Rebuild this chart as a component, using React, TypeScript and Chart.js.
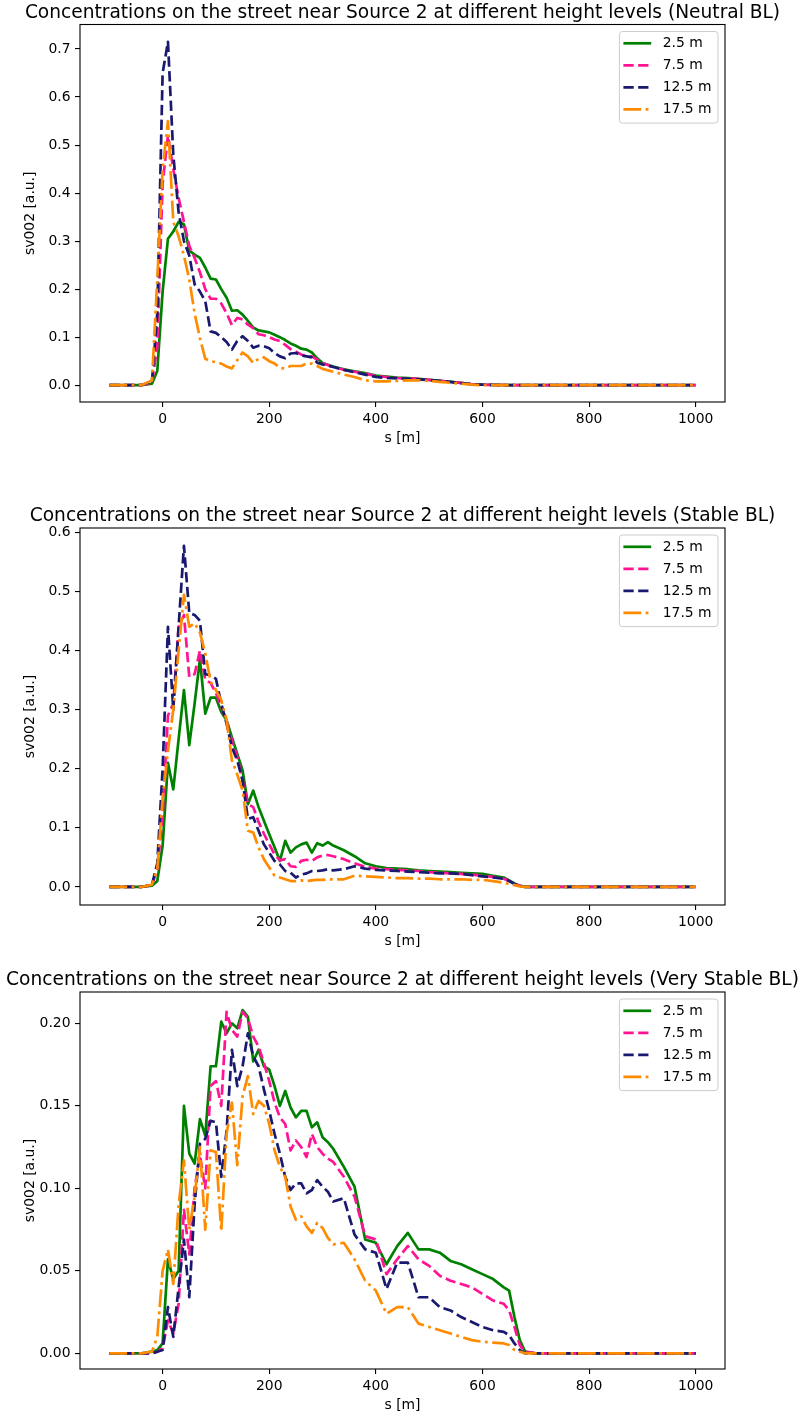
import React, { useEffect, useRef } from "react";
import { Chart, registerables } from "chart.js";

Chart.register(...registerables);

const FONT_FAMILY = "'DejaVu Sans', 'Liberation Sans', sans-serif";
const SERIES_LABELS = ["2.5 m", "7.5 m", "12.5 m", "17.5 m"];
const SERIES_COLORS = ["#008000", "#ff1493", "#191970", "#ff8c00"];
const SERIES_DASHES = [[], [10.3, 4.45], [10.3, 4.45], [17.8, 4.45, 2.78, 4.45]];
const X_TICKS = [0, 200, 400, 600, 800, 1000];

// ---------- Panel 1: Neutral BL ----------
const X1 = [-100, -80, -60, -40, -20, -10, 0, 10, 20, 30, 40, 50, 60, 70, 80, 90, 100, 110, 120, 130, 140, 150, 160, 170, 180, 190, 200, 210, 220, 230, 240, 250, 260, 270, 280, 290, 300, 320, 340, 360, 380, 400, 420, 440, 460, 480, 500, 520, 540, 560, 580, 600, 650, 700, 750, 800, 850, 900, 950, 1000];
const N_G = [0, 0, 0, 0, 0.003, 0.03, 0.195, 0.305, 0.32, 0.34, 0.335, 0.28, 0.272, 0.265, 0.245, 0.222, 0.22, 0.2, 0.182, 0.155, 0.156, 0.147, 0.134, 0.12, 0.114, 0.112, 0.11, 0.105, 0.1, 0.094, 0.087, 0.082, 0.076, 0.074, 0.068, 0.056, 0.046, 0.039, 0.033, 0.029, 0.025, 0.02, 0.018, 0.016, 0.015, 0.013, 0.011, 0.009, 0.007, 0.005, 0.002, 0.001, 0, 0, 0, 0, 0, 0, 0, 0];
const N_P = [0, 0, 0, 0, 0.005, 0.08, 0.42, 0.52, 0.45, 0.39, 0.34, 0.29, 0.265, 0.235, 0.2, 0.18, 0.18, 0.17, 0.15, 0.125, 0.14, 0.137, 0.126, 0.119, 0.106, 0.104, 0.1, 0.095, 0.092, 0.084, 0.075, 0.07, 0.064, 0.06, 0.06, 0.053, 0.046, 0.038, 0.032, 0.028, 0.024, 0.019, 0.017, 0.015, 0.014, 0.013, 0.011, 0.009, 0.007, 0.005, 0.002, 0.001, 0, 0, 0, 0, 0, 0, 0, 0];
const N_B = [0, 0, 0, 0, 0.008, 0.15, 0.65, 0.715, 0.48, 0.36, 0.3, 0.27, 0.21, 0.195, 0.175, 0.112, 0.109, 0.1, 0.09, 0.074, 0.092, 0.102, 0.092, 0.078, 0.082, 0.081, 0.077, 0.067, 0.06, 0.056, 0.066, 0.067, 0.062, 0.06, 0.058, 0.047, 0.043, 0.038, 0.032, 0.027, 0.022, 0.017, 0.015, 0.014, 0.013, 0.012, 0.011, 0.009, 0.007, 0.004, 0.002, 0.001, 0, 0, 0, 0, 0, 0, 0, 0];
const N_O = [0, 0, 0, 0, 0.01, 0.22, 0.45, 0.55, 0.34, 0.31, 0.27, 0.22, 0.15, 0.098, 0.055, 0.05, 0.048, 0.045, 0.039, 0.035, 0.052, 0.068, 0.06, 0.046, 0.055, 0.058, 0.05, 0.045, 0.036, 0.035, 0.04, 0.04, 0.04, 0.045, 0.045, 0.04, 0.034, 0.028, 0.022, 0.017, 0.01, 0.008, 0.008, 0.009, 0.01, 0.01, 0.009, 0.007, 0.005, 0.003, 0.001, 0, 0, 0, 0, 0, 0, 0, 0, 0];
const Y_TICKS_1 = [0, 0.1, 0.2, 0.3, 0.4, 0.5, 0.6, 0.7];

// ---------- Panels 2 and 3 share this s grid ----------
const X23 = [-100, -80, -60, -40, -20, -10, 0, 10, 20, 30, 40, 50, 60, 70, 80, 90, 100, 110, 120, 130, 140, 150, 160, 170, 180, 190, 200, 210, 220, 230, 240, 250, 260, 270, 280, 290, 300, 310, 320, 340, 360, 380, 400, 420, 440, 460, 480, 500, 520, 540, 560, 580, 600, 620, 640, 650, 660, 670, 680, 700, 750, 800, 850, 900, 950, 1000];

// ---------- Panel 2: Stable BL ----------
const S_G = [0, 0, 0, 0, 0.002, 0.01, 0.07, 0.21, 0.165, 0.25, 0.333, 0.24, 0.31, 0.385, 0.293, 0.32, 0.32, 0.296, 0.282, 0.253, 0.225, 0.197, 0.14, 0.163, 0.135, 0.112, 0.089, 0.067, 0.044, 0.078, 0.058, 0.067, 0.072, 0.075, 0.058, 0.074, 0.07, 0.076, 0.07, 0.062, 0.052, 0.04, 0.035, 0.032, 0.031, 0.03, 0.028, 0.027, 0.026, 0.025, 0.024, 0.023, 0.022, 0.019, 0.016, 0.011, 0.006, 0.002, 0, 0, 0, 0, 0, 0, 0, 0];
const S_P = [0, 0, 0, 0, 0.003, 0.03, 0.12, 0.29, 0.31, 0.44, 0.46, 0.355, 0.36, 0.4, 0.35, 0.345, 0.328, 0.305, 0.28, 0.248, 0.22, 0.18, 0.14, 0.135, 0.11, 0.09, 0.072, 0.055, 0.045, 0.047, 0.035, 0.034, 0.044, 0.046, 0.044, 0.05, 0.053, 0.054, 0.052, 0.047, 0.04, 0.034, 0.031, 0.03, 0.029, 0.028, 0.027, 0.025, 0.024, 0.023, 0.022, 0.021, 0.019, 0.017, 0.014, 0.01, 0.005, 0.002, 0, 0, 0, 0, 0, 0, 0, 0];
const S_B = [0, 0, 0, 0, 0.004, 0.04, 0.2, 0.44, 0.3, 0.44, 0.577, 0.463, 0.46, 0.45, 0.36, 0.358, 0.352, 0.31, 0.276, 0.236, 0.214, 0.18, 0.115, 0.118, 0.095, 0.072, 0.058, 0.044, 0.038, 0.027, 0.024, 0.016, 0.021, 0.023, 0.027, 0.027, 0.028, 0.03, 0.028, 0.03, 0.035, 0.031, 0.029, 0.028, 0.027, 0.026, 0.025, 0.024, 0.023, 0.023, 0.022, 0.02, 0.018, 0.016, 0.014, 0.01, 0.005, 0.002, 0, 0, 0, 0, 0, 0, 0, 0];
const S_O = [0, 0, 0, 0, 0.004, 0.03, 0.15, 0.23, 0.3, 0.4, 0.494, 0.44, 0.446, 0.43, 0.395, 0.347, 0.333, 0.316, 0.282, 0.214, 0.19, 0.163, 0.095, 0.092, 0.067, 0.047, 0.033, 0.019, 0.016, 0.013, 0.01, 0.01, 0.011, 0.01, 0.011, 0.012, 0.012, 0.013, 0.013, 0.013, 0.019, 0.018, 0.017, 0.016, 0.015, 0.015, 0.014, 0.014, 0.013, 0.013, 0.013, 0.012, 0.012, 0.01, 0.007, 0.005, 0.003, 0.001, 0, 0, 0, 0, 0, 0, 0, 0];
const Y_TICKS_2 = [0, 0.1, 0.2, 0.3, 0.4, 0.5, 0.6];

// ---------- Panel 3: Very Stable BL ----------
const V_G = [0, 0, 0, 0, 0.001, 0.002, 0.006, 0.057, 0.045, 0.05, 0.15, 0.121, 0.115, 0.142, 0.132, 0.174, 0.174, 0.201, 0.194, 0.2, 0.197, 0.208, 0.204, 0.177, 0.184, 0.174, 0.172, 0.162, 0.15, 0.159, 0.149, 0.143, 0.147, 0.147, 0.137, 0.14, 0.131, 0.128, 0.124, 0.113, 0.101, 0.069, 0.067, 0.054, 0.065, 0.073, 0.063, 0.063, 0.061, 0.056, 0.054, 0.051, 0.048, 0.045, 0.04, 0.038, 0.022, 0.008, 0.001, 0, 0, 0, 0, 0, 0, 0];
const V_P = [0, 0, 0, 0, 0, 0.001, 0.003, 0.02, 0.012, 0.03, 0.087, 0.06, 0.1, 0.12, 0.1, 0.162, 0.165, 0.15, 0.207, 0.196, 0.192, 0.207, 0.203, 0.192, 0.186, 0.176, 0.165, 0.152, 0.143, 0.139, 0.123, 0.129, 0.125, 0.119, 0.133, 0.125, 0.121, 0.118, 0.116, 0.107, 0.095, 0.071, 0.069, 0.048, 0.057, 0.065, 0.057, 0.053, 0.047, 0.044, 0.042, 0.04, 0.036, 0.032, 0.03, 0.026, 0.016, 0.005, 0.001, 0, 0, 0, 0, 0, 0, 0];
const V_B = [0, 0, 0, 0, 0, 0.001, 0.002, 0.028, 0.01, 0.04, 0.069, 0.034, 0.09, 0.127, 0.13, 0.141, 0.14, 0.107, 0.135, 0.184, 0.162, 0.174, 0.194, 0.18, 0.174, 0.16, 0.147, 0.133, 0.121, 0.107, 0.099, 0.103, 0.103, 0.097, 0.099, 0.105, 0.101, 0.098, 0.092, 0.094, 0.072, 0.063, 0.061, 0.039, 0.055, 0.055, 0.034, 0.034, 0.028, 0.026, 0.022, 0.019, 0.016, 0.014, 0.013, 0.011, 0.006, 0.002, 0, 0, 0, 0, 0, 0, 0, 0];
const V_O = [0, 0, 0, 0, 0.001, 0.01, 0.05, 0.063, 0.042, 0.09, 0.117, 0.075, 0.095, 0.125, 0.075, 0.123, 0.122, 0.074, 0.133, 0.152, 0.114, 0.156, 0.168, 0.145, 0.153, 0.15, 0.139, 0.123, 0.113, 0.107, 0.089, 0.081, 0.083, 0.077, 0.073, 0.079, 0.076, 0.07, 0.066, 0.067, 0.057, 0.044, 0.038, 0.024, 0.028, 0.028, 0.018, 0.016, 0.014, 0.012, 0.01, 0.008, 0.007, 0.0065, 0.006, 0.005, 0.002, 0.001, 0, 0, 0, 0, 0, 0, 0, 0];
const Y_TICKS_3 = [0, 0.05, 0.1, 0.15, 0.2];

const TITLES = [
  "Concentrations on the street near Source 2 at different height levels (Neutral BL)",
  "Concentrations on the street near Source 2 at different height levels (Stable BL)",
  "Concentrations on the street near Source 2 at different height levels (Very Stable BL)",
];

type PanelCfg = {
  title: string;
  x: number[];
  series: number[][];
  yMin: number;
  yMax: number;
  yTicks: number[];
  yDec: number;
  top: number;
  height: number;
  padTop: number;
};

const PANELS: PanelCfg[] = [
  { title: TITLES[0], x: X1, series: [N_G, N_P, N_B, N_O], yMin: -0.035, yMax: 0.751, yTicks: Y_TICKS_1, yDec: 1, top: 0, height: 452, padTop: 24.5 },
  { title: TITLES[1], x: X23, series: [S_G, S_P, S_B, S_O], yMin: -0.0305, yMax: 0.607, yTicks: Y_TICKS_2, yDec: 1, top: 452, height: 503, padTop: 76 },
  { title: TITLES[2], x: X23, series: [V_G, V_P, V_B, V_O], yMin: -0.0095, yMax: 0.219, yTicks: Y_TICKS_3, yDec: 2, top: 955, height: 464, padTop: 37 },
];

const TICK_FONT = { family: FONT_FAMILY, size: 13.9 };

function makeDecorPlugin(title: string) {
  return {
    id: "decor",
    afterDatasetsDraw(chart: any) {
      const { ctx, chartArea: a } = chart;
      ctx.save();
      // frame
      ctx.strokeStyle = "#000";
      ctx.lineWidth = 1.1;
      ctx.setLineDash([]);
      ctx.strokeRect(a.left, a.top, a.right - a.left, a.bottom - a.top);
      // title
      ctx.fillStyle = "#000";
      ctx.font = `18.6px ${FONT_FAMILY}`;
      ctx.textAlign = "center";
      ctx.textBaseline = "alphabetic";
      ctx.fillText(title, (a.left + a.right) / 2, a.top - 7);
      // legend
      const w = 98.6;
      const h = 91.6;
      const x0 = a.right - 7 - w;
      const y0 = a.top + 7;
      const r = 3;
      ctx.beginPath();
      ctx.moveTo(x0 + r, y0);
      ctx.lineTo(x0 + w - r, y0);
      ctx.arcTo(x0 + w, y0, x0 + w, y0 + r, r);
      ctx.lineTo(x0 + w, y0 + h - r);
      ctx.arcTo(x0 + w, y0 + h, x0 + w - r, y0 + h, r);
      ctx.lineTo(x0 + r, y0 + h);
      ctx.arcTo(x0, y0 + h, x0, y0 + h - r, r);
      ctx.lineTo(x0, y0 + r);
      ctx.arcTo(x0, y0, x0 + r, y0, r);
      ctx.closePath();
      ctx.fillStyle = "rgba(255,255,255,0.8)";
      ctx.fill();
      ctx.strokeStyle = "#cccccc";
      ctx.lineWidth = 1;
      ctx.stroke();
      ctx.font = `13.9px ${FONT_FAMILY}`;
      ctx.textAlign = "left";
      ctx.textBaseline = "middle";
      SERIES_LABELS.forEach((lab, i) => {
        const yy = y0 + 11.8 + i * 22;
        ctx.beginPath();
        ctx.strokeStyle = SERIES_COLORS[i];
        ctx.lineWidth = 2.7;
        ctx.lineCap = "butt";
        ctx.setLineDash(SERIES_DASHES[i]);
        ctx.moveTo(x0 + 4, yy);
        ctx.lineTo(x0 + 31.8, yy);
        ctx.stroke();
        ctx.setLineDash([]);
        ctx.fillStyle = "#000";
        ctx.fillText(lab, x0 + 43.3, yy + 0.5);
      });
      ctx.restore();
    },
  };
}

function Panel({ cfg }: { cfg: PanelCfg }) {
  const ref = useRef<HTMLCanvasElement | null>(null);
  useEffect(() => {
    if (!ref.current) return;
    const datasets = cfg.series.map((vals, i) => ({
      label: SERIES_LABELS[i],
      data: cfg.x.map((xv, j) => ({ x: xv, y: vals[j] })),
      borderColor: SERIES_COLORS[i],
      backgroundColor: SERIES_COLORS[i],
      borderWidth: 2.7,
      borderDash: SERIES_DASHES[i],
      borderCapStyle: "butt" as const,
      borderJoinStyle: "round" as const,
      pointRadius: 0,
      tension: 0,
      fill: false,
      order: 4 - i,
    }));
    const gridOpts = {
      display: true,
      drawOnChartArea: false,
      drawTicks: true,
      tickLength: 5,
      color: "#000",
      lineWidth: 1.1,
    };
    const chart = new Chart(ref.current, {
      type: "line",
      data: { datasets },
      plugins: [makeDecorPlugin(cfg.title)],
      options: {
        animation: false,
        responsive: false,
        devicePixelRatio: 1,
        layout: { padding: { left: 0, right: 76, top: cfg.padTop, bottom: 0 } },
        plugins: { legend: { display: false }, tooltip: { enabled: false }, title: { display: false } },
        scales: {
          x: {
            type: "linear",
            min: -155,
            max: 1055,
            afterBuildTicks: (s: any) => {
              s.ticks = X_TICKS.map((v) => ({ value: v }));
            },
            afterFit: (s: any) => {
              s.height = 50;
            },
            grid: gridOpts,
            border: { display: false },
            ticks: {
              color: "#000",
              font: TICK_FONT,
              padding: 4,
              maxRotation: 0,
              autoSkip: false,
              callback: (v: any) => String(v),
            },
            title: {
              display: true,
              text: "s [m]",
              color: "#000",
              font: TICK_FONT,
              padding: { top: 0, bottom: 5.7 },
            },
          },
          y: {
            type: "linear",
            min: cfg.yMin,
            max: cfg.yMax,
            afterBuildTicks: (s: any) => {
              s.ticks = cfg.yTicks.map((v) => ({ value: v }));
            },
            afterFit: (s: any) => {
              s.width = 80;
            },
            grid: gridOpts,
            border: { display: false },
            ticks: {
              color: "#000",
              font: TICK_FONT,
              padding: 4.5,
              autoSkip: false,
              callback: (v: any) => Number(v).toFixed(cfg.yDec),
            },
            title: {
              display: true,
              text: "sv002 [a.u.]",
              color: "#000",
              font: TICK_FONT,
              padding: { top: 22, bottom: 0 },
            },
          },
        },
      },
    } as any);
    return () => chart.destroy();
  }, [cfg]);
  return (
    <canvas
      ref={ref}
      width={801}
      height={cfg.height}
      style={{ position: "absolute", left: 0, top: cfg.top, width: 801, height: cfg.height, display: "block" }}
    />
  );
}

export default function App() {
  return (
    <div style={{ position: "absolute", left: 0, top: 0, width: 801, height: 1420, background: "#fff" }}>
      {PANELS.map((p, i) => (
        <Panel key={i} cfg={p} />
      ))}
    </div>
  );
}
